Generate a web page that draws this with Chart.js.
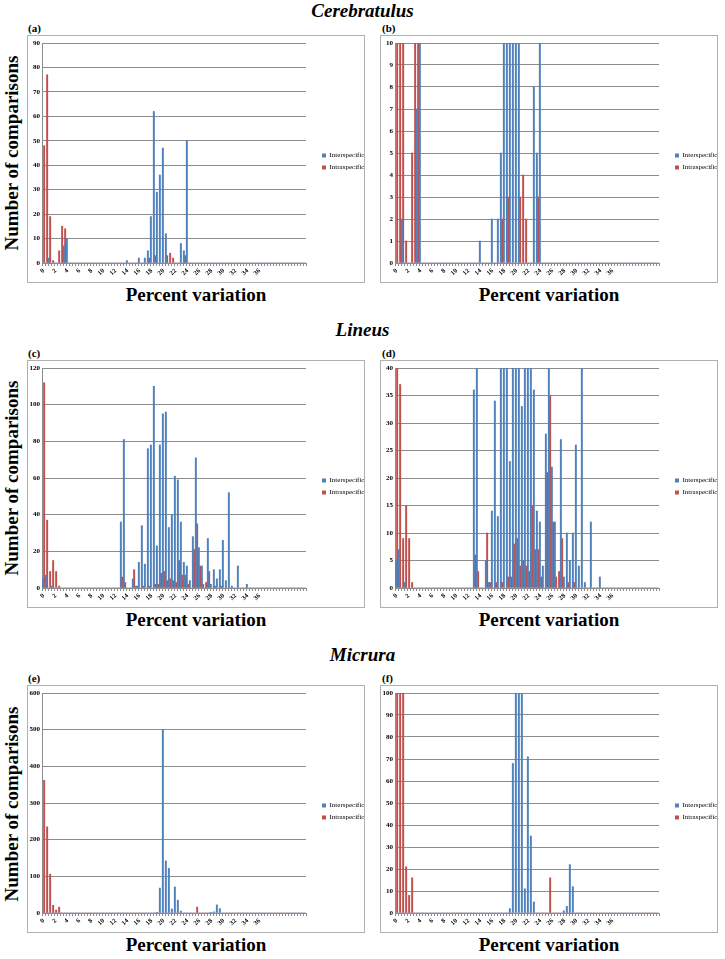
<!DOCTYPE html>
<html>
<head>
<meta charset="utf-8">
<script src="https://cdn.jsdelivr.net/npm/chart.js@4.4.0/dist/chart.umd.min.js"></script>
<style>
  body { margin: 0; background: #fff; }
  #fig { position: relative; width: 725px; height: 959px; font-family: "Liberation Serif", "Times New Roman", serif; color: #000; }
  .genus { position: absolute; left: 0; width: 725px; text-align: center; font-weight: bold; font-style: italic; font-size: 19px; line-height: 20px; }
  .tag { position: absolute; font-weight: bold; font-size: 11px; line-height: 12px; }
  .box { position: absolute; border: 1px solid #b0b0b0; width: 336px; height: 246px; }
  .box canvas { display: block; }
  .ylab { position: absolute; font-weight: bold; font-size: 19px; white-space: nowrap; transform: translate(-50%, -50%) rotate(-90deg); }
  .xlab { position: absolute; font-weight: bold; font-size: 19px; line-height: 20px; width: 338px; text-align: center; }
</style>
</head>
<body>
<div id="fig">
  <div class="genus" style="top:1px">Cerebratulus</div>
  <div class="genus" style="top:320px">Lineus</div>
  <div class="genus" style="top:645px">Micrura</div>

  <div class="tag" style="left:28px;top:22px">(a)</div>
  <div class="tag" style="left:382px;top:22px">(b)</div>
  <div class="tag" style="left:28px;top:347px">(c)</div>
  <div class="tag" style="left:382px;top:347px">(d)</div>
  <div class="tag" style="left:28px;top:672px">(e)</div>
  <div class="tag" style="left:382px;top:672px">(f)</div>

  <div class="box" style="left:27px;top:35px"><canvas id="chartA" width="336" height="246"></canvas></div>
  <div class="box" style="left:380px;top:35px"><canvas id="chartB" width="336" height="246"></canvas></div>
  <div class="box" style="left:27px;top:360px"><canvas id="chartC" width="336" height="246"></canvas></div>
  <div class="box" style="left:380px;top:360px"><canvas id="chartD" width="336" height="246"></canvas></div>
  <div class="box" style="left:27px;top:685px"><canvas id="chartE" width="336" height="246"></canvas></div>
  <div class="box" style="left:380px;top:685px"><canvas id="chartF" width="336" height="246"></canvas></div>

  <div class="ylab" style="left:12px;top:153px">Number of comparisons</div>
  <div class="ylab" style="left:12px;top:478px">Number of comparisons</div>
  <div class="ylab" style="left:12px;top:804px">Number of comparisons</div>

  <div class="xlab" style="left:27px;top:285px">Percent variation</div>
  <div class="xlab" style="left:380px;top:285px">Percent variation</div>
  <div class="xlab" style="left:27px;top:610px">Percent variation</div>
  <div class="xlab" style="left:380px;top:610px">Percent variation</div>
  <div class="xlab" style="left:27px;top:935px">Percent variation</div>
  <div class="xlab" style="left:380px;top:935px">Percent variation</div>
</div>

<script>
// percent variation categories (0.5 % bins)
const pct = [
  0, 0.5, 1, 1.5, 2, 2.5, 3, 3.5, 4, 4.5,
  5, 5.5, 6, 6.5, 7, 7.5, 8, 8.5, 9, 9.5,
  10, 10.5, 11, 11.5, 12, 12.5, 13, 13.5, 14, 14.5,
  15, 15.5, 16, 16.5, 17, 17.5, 18, 18.5, 19, 19.5,
  20, 20.5, 21, 21.5, 22, 22.5, 23, 23.5, 24, 24.5,
  25, 25.5, 26, 26.5, 27, 27.5, 28, 28.5, 29, 29.5,
  30, 30.5, 31, 31.5, 32, 32.5, 33, 33.5, 34, 34.5,
  35, 35.5, 36, 36.5, 37, 37.5, 38, 38.5, 39, 39.5,
  40, 40.5, 41, 41.5, 42, 42.5, 43, 43.5
];
const xTickLabels = [0, 2, 4, 6, 8, 10, 12, 14, 16, 18, 20, 22, 24, 26, 28, 30, 32, 34, 36];

// Cerebratulus
const cerebInter = [
  0, 0, 2, 0, 0, 0, 0, 7, 10, 0,
  0, 0, 0, 0, 0, 0, 0, 0, 0, 0,
  0, 0, 0, 0, 0, 0, 0, 0, 1, 0,
  0, 0, 2, 0, 2, 5, 19, 62, 29, 36,
  47, 12, 0, 0, 0, 0, 8, 5, 50, 0,
  0, 0, 0, 0, 0, 0, 0, 0, 0, 0,
  0, 0, 0, 0, 0, 0, 0, 0, 0, 0,
  0, 0, 0, 0, 0, 0, 0, 0, 0, 0,
  0, 0, 0, 0, 0, 0, 0, 0
];
const cerebIntra = [
  48, 77, 19, 1, 0, 5, 15, 14, 0, 0,
  0, 0, 0, 0, 0, 0, 0, 0, 0, 0,
  0, 0, 0, 0, 0, 0, 0, 0, 0, 0,
  0, 0, 0, 0, 0, 2, 0, 3, 0, 0,
  0, 3, 4, 2, 0, 0, 0, 3, 0, 0,
  0, 0, 0, 0, 0, 0, 0, 0, 0, 0,
  0, 0, 0, 0, 0, 0, 0, 0, 0, 0,
  0, 0, 0, 0, 0, 0, 0, 0, 0, 0,
  0, 0, 0, 0, 0, 0, 0, 0
];

// Lineus
const lineusInter = [
  5, 7, 0, 1, 0, 0, 0, 0, 0, 0,
  0, 0, 0, 0, 0, 0, 0, 0, 0, 0,
  0, 0, 0, 0, 0, 0, 36, 81, 0, 0,
  5, 1, 14, 34, 13, 76, 78, 110, 23, 78,
  95, 96, 33, 40, 61, 59, 36, 14, 12, 4,
  28, 71, 22, 12, 0, 27, 2, 10, 5, 10,
  26, 4, 52, 1, 0, 12, 0, 0, 2, 0,
  0, 0, 0, 0, 0, 0, 0, 0, 0, 0,
  0, 0, 0, 0, 0, 0, 0, 0
];
const lineusIntra = [
  112, 37, 9, 15, 9, 1, 0, 0, 0, 0,
  0, 0, 0, 0, 0, 0, 0, 0, 0, 0,
  0, 0, 0, 0, 0, 0, 6, 3, 0, 0,
  10, 1, 0, 1, 0, 1, 0, 2, 2, 8,
  9, 4, 5, 4, 3, 15, 7, 7, 2, 0,
  21, 35, 12, 2, 3, 9, 0, 1, 0, 1,
  0, 0, 0, 0, 0, 0, 0, 0, 0, 0,
  0, 0, 0, 0, 0, 0, 0, 0, 0, 0,
  0, 0, 0, 0, 0, 0, 0, 0
];

// Micrura
const micruraInter = [
  0, 0, 0, 0, 0, 0, 0, 0, 0, 0,
  0, 0, 0, 0, 0, 0, 0, 0, 0, 0,
  0, 0, 0, 0, 0, 0, 0, 0, 0, 0,
  0, 0, 0, 0, 0, 0, 0, 0, 2, 68,
  500, 142, 122, 11, 71, 35, 5, 0, 0, 0,
  0, 0, 0, 0, 0, 0, 1, 3, 22, 12,
  0, 0, 0, 0, 0, 0, 0, 0, 0, 0,
  0, 0, 0, 0, 0, 0, 0, 0, 0, 0,
  0, 0, 0, 0, 0, 0, 0, 0
];
const micruraIntra = [
  362, 235, 106, 21, 8, 16, 0, 0, 0, 0,
  0, 0, 0, 0, 0, 0, 0, 0, 0, 0,
  0, 0, 0, 0, 0, 0, 0, 0, 0, 0,
  0, 0, 0, 0, 0, 0, 0, 0, 0, 0,
  0, 0, 0, 0, 0, 0, 0, 0, 0, 0,
  0, 16, 0, 0, 0, 0, 0, 0, 0, 0,
  0, 0, 0, 0, 0, 0, 0, 0, 0, 0,
  0, 0, 0, 0, 0, 0, 0, 0, 0, 0,
  0, 0, 0, 0, 0, 0, 0, 0
];

const serif = '"Liberation Serif", "Times New Roman", serif';
const gridGrey = '#8c8c8c';

function makePanel(canvasId, inter, intra, yMax, yStep) {
  const ctx = document.getElementById(canvasId).getContext('2d');
  return new Chart(ctx, {
    type: 'bar',
    data: {
      labels: pct,
      datasets: [
        { label: 'Interspecific', data: inter, backgroundColor: '#4f81bd', barThickness: 1.3, clip: 0 },
        { label: 'Intraspecific', data: intra, backgroundColor: '#c0504d', barThickness: 1.3, clip: 0 }
      ]
    },
    options: {
      responsive: false,
      animation: false,
      devicePixelRatio: 1,
      layout: { padding: { left: 0, top: 7, right: 0, bottom: 2 } },
      plugins: {
        tooltip: { enabled: false },
        legend: {
          position: 'right',
          maxWidth: 47,
          labels: {
            boxWidth: 4,
            boxHeight: 4,
            padding: 5,
            color: '#000',
            font: { family: serif, size: 7 }
          }
        }
      },
      scales: {
        x: {
          grid: { display: true, drawOnChartArea: false, color: gridGrey, tickLength: 3 },
          border: { color: gridGrey },
          ticks: {
            autoSkip: false,
            minRotation: 45,
            maxRotation: 45,
            padding: 1,
            color: '#000',
            font: { family: serif, size: 6.5, weight: 'bold' },
            callback: (v, i) => (xTickLabels.includes(pct[i]) ? String(pct[i]) : '')
          },
          afterFit: (s) => { s.height = 17; }
        },
        y: {
          min: 0,
          max: yMax,
          grid: { color: gridGrey, drawTicks: false },
          border: { color: gridGrey },
          ticks: {
            stepSize: yStep,
            padding: 2,
            color: '#000',
            font: { family: serif, size: 7, weight: 'bold' }
          },
          afterFit: (s) => { s.width = 14; }
        },
        // empty axis used only as spacing between plot and legend
        gap: {
          position: 'right',
          display: true,
          grid: { display: false },
          border: { display: false },
          ticks: { display: false },
          afterFit: (s) => { s.width = 11; }
        }
      }
    }
  });
}

makePanel('chartA', cerebInter, cerebIntra, 90, 10);
makePanel('chartB', cerebInter, cerebIntra, 10, 1);
makePanel('chartC', lineusInter, lineusIntra, 120, 20);
makePanel('chartD', lineusInter, lineusIntra, 40, 5);
makePanel('chartE', micruraInter, micruraIntra, 600, 100);
makePanel('chartF', micruraInter, micruraIntra, 100, 10);
</script>
</body>
</html>
